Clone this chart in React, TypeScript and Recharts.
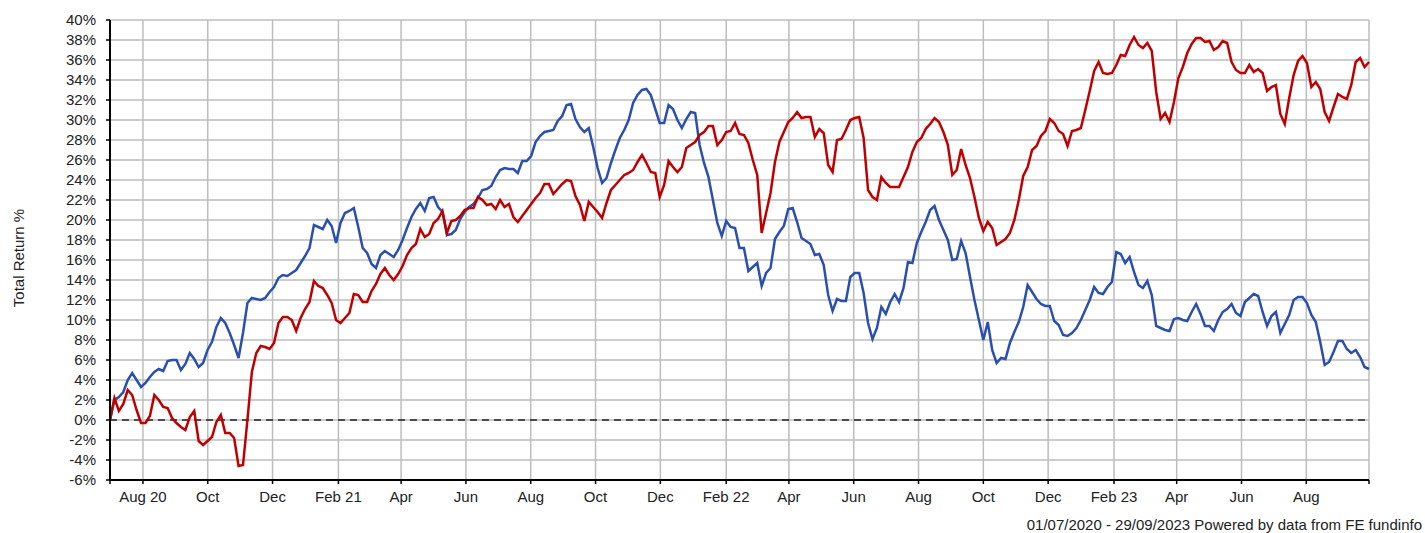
import React from 'react';
import { LineChart, Line, XAxis, YAxis, CartesianGrid, ReferenceLine } from 'recharts';

const startDate = Date.UTC(2020, 6, 1);
const endDate = Date.UTC(2023, 8, 29);

const tickMonths = [
  '2020-08-01', '2020-10-01', '2020-12-01', '2021-02-01', '2021-04-01', '2021-06-01',
  '2021-08-01', '2021-10-01', '2021-12-01', '2022-02-01', '2022-04-01', '2022-06-01',
  '2022-08-01', '2022-10-01', '2022-12-01', '2023-02-01', '2023-04-01', '2023-06-01',
  '2023-08-01',
];
const tickLabels = [
  'Aug 20', 'Oct', 'Dec', 'Feb 21', 'Apr', 'Jun', 'Aug', 'Oct', 'Dec', 'Feb 22',
  'Apr', 'Jun', 'Aug', 'Oct', 'Dec', 'Feb 23', 'Apr', 'Jun', 'Aug',
];
const yTicks = [-6, -4, -2, 0, 2, 4, 6, 8, 10, 12, 14, 16, 18, 20, 22, 24, 26, 28, 30, 32, 34, 36, 38, 40];

// total return %, sampled evenly from 01/07/2020 to 29/09/2023
const redSeries = [
  0.0, 2.2, 0.9, 1.6, 3.0, 2.5, 1.0, -0.3, -0.3, 0.4, 2.5, 2.0, 1.3, 1.2, 0.2, -0.3, -0.7, -1.0, 0.3, 0.9,
  -2.1, -2.5, -2.1, -1.7, -0.2, 0.5, -1.3, -1.3, -1.8, -4.6, -4.5, 0.0, 4.8, 6.7, 7.4, 7.3, 7.1, 7.7, 9.7, 10.3,
  10.3, 10.0, 8.9, 10.2, 11.1, 11.8, 13.9, 13.4, 13.2, 12.5, 11.7, 10.0, 9.7, 10.2, 10.7, 12.6, 12.5, 11.8, 11.8, 12.9,
  13.6, 14.6, 15.2, 14.5, 14.0, 14.6, 15.4, 16.5, 17.2, 17.6, 19.1, 18.3, 18.6, 19.7, 20.1, 20.9, 18.7, 19.9, 20.0, 20.4,
  21.0, 21.2, 21.2, 22.3, 22.0, 21.5, 21.6, 21.1, 22.0, 21.3, 21.6, 20.3, 19.8, 20.4, 21.0, 21.6, 22.2, 22.7, 23.6, 23.6,
  22.6, 23.1, 23.6, 24.0, 23.9, 22.4, 21.5, 19.9, 21.8, 21.3, 20.8, 20.2, 21.7, 23.0, 23.5, 24.0, 24.5, 24.7, 25.0, 25.8,
  26.5, 25.7, 24.8, 24.7, 22.3, 23.5, 25.9, 25.3, 24.8, 25.3, 27.2, 27.5, 27.8, 28.5, 28.8, 29.4, 29.4, 27.5, 28.0, 28.8,
  28.9, 29.7, 28.6, 28.5, 27.7, 26.0, 24.5, 18.7, 20.7, 22.7, 25.8, 27.8, 28.8, 29.8, 30.2, 30.8, 30.2, 30.3, 30.3, 28.3,
  29.1, 28.7, 25.5, 24.8, 28.0, 28.1, 29.0, 30.0, 30.2, 30.3, 28.2, 23.0, 22.3, 22.0, 24.3, 23.7, 23.3, 23.3, 23.3, 24.3,
  25.3, 26.8, 27.8, 28.2, 29.1, 29.6, 30.2, 29.8, 28.8, 27.5, 24.5, 25.0, 27.1, 25.5, 24.2, 22.3, 20.2, 18.9, 19.8, 19.2,
  17.5, 17.8, 18.1, 18.7, 20.0, 22.0, 24.4, 25.3, 27.0, 27.4, 28.4, 28.9, 30.1, 29.7, 28.9, 28.6, 27.4, 28.9, 29.0, 29.2,
  31.0, 32.9, 34.9, 35.8, 34.7, 34.6, 34.7, 35.5, 36.5, 36.4, 37.5, 38.3, 37.5, 37.2, 37.7, 36.9, 32.8, 30.1, 30.7, 29.8,
  31.8, 34.2, 35.3, 36.7, 37.6, 38.2, 38.2, 37.8, 37.9, 37.0, 37.3, 37.9, 37.7, 35.8, 35.0, 34.7, 34.7, 35.5, 34.8, 35.1,
  34.7, 32.9, 33.3, 33.5, 30.6, 29.6, 32.2, 34.5, 35.9, 36.4, 35.7, 33.3, 33.8, 33.1, 30.8, 29.9, 31.3, 32.6, 32.3, 32.1,
  33.5, 35.8, 36.2, 35.3, 35.8,
];

const blueSeries = [
  0.0, 2.0, 2.3, 2.8, 4.0, 4.7, 4.0, 3.3, 3.7, 4.3, 4.8, 5.1, 4.9, 5.9, 6.0, 6.0, 5.0, 5.6, 6.7, 6.1,
  5.3, 5.7, 7.0, 7.8, 9.3, 10.2, 9.7, 8.7, 7.5, 6.2, 8.7, 11.7, 12.2, 12.1, 12.0, 12.2, 12.8, 13.3, 14.2, 14.5,
  14.4, 14.7, 15.0, 15.7, 16.4, 17.2, 19.5, 19.3, 19.1, 20.0, 19.4, 17.7, 19.7, 20.7, 20.9, 21.2, 19.3, 17.2, 16.7, 15.6,
  15.2, 16.5, 16.9, 16.6, 16.3, 17.0, 18.0, 19.2, 20.3, 21.1, 21.7, 20.9, 22.2, 22.3, 21.3, 20.8, 18.5, 18.6, 19.0, 20.1,
  20.8, 21.3, 21.6, 22.2, 23.0, 23.1, 23.4, 24.3, 25.0, 25.2, 25.1, 25.1, 24.7, 25.9, 25.9, 26.4, 27.8, 28.4, 28.8, 28.9,
  29.0, 29.9, 30.4, 31.5, 31.6, 30.1, 29.3, 28.8, 29.2, 27.3, 25.2, 23.7, 24.2, 25.7, 27.0, 28.2, 29.0, 30.0, 31.7, 32.5,
  33.0, 33.1, 32.5, 31.1, 29.7, 29.7, 31.5, 31.1, 30.0, 29.2, 30.1, 30.8, 30.7, 27.5, 25.7, 24.3, 22.0, 19.7, 18.4, 19.9,
  19.3, 19.2, 17.2, 17.2, 14.9, 15.3, 15.7, 13.4, 14.7, 15.2, 18.1, 18.8, 19.4, 21.1, 21.2, 19.8, 18.2, 17.9, 17.6, 16.5,
  16.6, 15.5, 12.5, 10.9, 12.1, 11.9, 11.9, 14.3, 14.7, 14.7, 12.7, 9.7, 8.1, 9.2, 11.3, 10.6, 11.8, 12.6, 11.8, 13.2,
  15.8, 15.7, 17.7, 18.8, 19.8, 21.0, 21.4, 20.0, 19.0, 18.0, 16.0, 16.1, 17.9, 16.7, 14.3, 12.0, 10.0, 8.0, 9.8, 7.0,
  5.7, 6.2, 6.1, 7.7, 8.8, 9.8, 11.3, 13.5, 12.8, 12.1, 11.6, 11.4, 11.4, 9.9, 9.5, 8.5, 8.4, 8.7, 9.2, 10.0,
  11.0, 12.0, 13.3, 12.7, 12.6, 13.3, 13.8, 16.8, 16.6, 15.7, 16.3, 14.8, 13.5, 13.2, 13.9, 12.5, 9.4, 9.2, 9.0, 8.9,
  10.1, 10.2, 10.0, 9.9, 10.8, 11.6, 10.6, 9.4, 9.4, 8.9, 10.0, 10.8, 11.1, 11.6, 10.7, 10.4, 11.8, 12.2, 12.6, 12.4,
  10.8, 9.4, 10.4, 10.8, 8.7, 9.6, 10.5, 12.0, 12.3, 12.3, 11.7, 10.5, 9.8, 7.8, 5.5, 5.8, 6.8, 7.9, 7.9, 7.1,
  6.7, 7.0, 6.3, 5.3, 5.1,
];

const FONT = '"Liberation Sans", Arial, Helvetica, sans-serif';

const step = (endDate - startDate) / (redSeries.length - 1);
const data = redSeries.map((r, i) => ({
  t: startDate + i * step,
  red: r,
  blue: blueSeries[i],
}));

const tickTimes = tickMonths.map(d => Date.parse(d + 'T00:00:00Z'));
const xTicks = [startDate, ...tickTimes, endDate];
const labelFor = (v: number) => {
  const idx = tickTimes.indexOf(v);
  return idx >= 0 ? tickLabels[idx] : '';
};

export default function App() {
  return (
    <div style={{ position: 'absolute', left: 0, top: 0, width: 1425, height: 533, background: '#fff', fontFamily: FONT }}>
      <LineChart
        width={1425}
        height={533}
        data={data}
        margin={{ top: 20, right: 56, bottom: 23, left: 0 }}
      >
        <CartesianGrid stroke="#bdbdbd" strokeWidth={1.5} />
        <XAxis
          dataKey="t"
          type="number"
          domain={[startDate, endDate]}
          ticks={xTicks}
          interval={0}
          tickFormatter={labelFor}
          height={30}
          tickSize={4}
          tickMargin={7}
          axisLine={{ stroke: '#000', strokeWidth: 2 }}
          tickLine={{ stroke: '#000', strokeWidth: 1.5 }}
          tick={{ fill: '#222', fontSize: 15, fontFamily: FONT }}
        />
        <YAxis
          type="number"
          domain={[-6, 40]}
          ticks={yTicks}
          interval={0}
          width={110}
          tickFormatter={(v: number) => `${v}%`}
          tickSize={4}
          tickMargin={10}
          axisLine={{ stroke: '#000', strokeWidth: 2 }}
          tickLine={{ stroke: '#000', strokeWidth: 1.5 }}
          tick={{ fill: '#222', fontSize: 15, fontFamily: FONT }}
        />
        <ReferenceLine y={0} stroke="#222" strokeWidth={1.5} strokeDasharray="7 5" />
        <Line type="linear" dataKey="blue" stroke="#2a4faf" strokeWidth={2.5} dot={false} isAnimationActive={false} />
        <Line type="linear" dataKey="red" stroke="#c00000" strokeWidth={2.5} dot={false} isAnimationActive={false} />
      </LineChart>
      <div
        style={{
          position: 'absolute',
          left: 18,
          top: 258,
          transform: 'translate(-50%, -50%) rotate(-90deg)',
          fontSize: 15,
          color: '#222',
          whiteSpace: 'nowrap',
        }}
      >
        Total Return %
      </div>
      <div
        style={{
          position: 'absolute',
          right: 3,
          top: 516,
          fontSize: 15,
          lineHeight: '17px',
          color: '#222',
          whiteSpace: 'nowrap',
        }}
      >
        01/07/2020 - 29/09/2023 Powered by data from FE fundinfo
      </div>
    </div>
  );
}
